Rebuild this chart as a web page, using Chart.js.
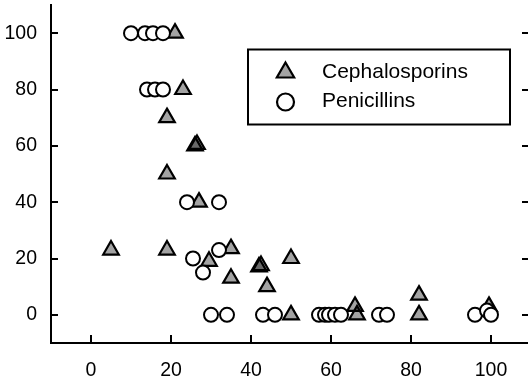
<!DOCTYPE html>
<html>
<head>
<meta charset="utf-8">
<script src="https://cdn.jsdelivr.net/npm/chart.js@4.4.0/dist/chart.umd.min.js"></script>
<style>
  html, body { margin: 0; padding: 0; background: #fff; }
</style>
</head>
<body>
<canvas id="chart" width="528" height="383"></canvas>
<script>
// Tick values shown on both axes
const xTicks = [0, 20, 40, 60, 80, 100];
const yTicks = [0, 20, 40, 60, 80, 100];

// Cephalosporins (x, y pairs)
const cephX = [21, 23, 19, 26, 26.5, 19, 27, 5, 19, 35, 29.5, 35, 42, 42.5, 44, 50, 50, 66, 66.5, 82, 82, 99.5];
const cephY = [100, 80, 70, 60, 60.5, 50, 40, 23, 23, 23.5, 19, 13, 17, 17.5, 10, 20, 0, 3, 0, 7, 0, 3];

// Penicillins (x, y pairs)
const penX = [10, 13.5, 15.5, 18, 14, 16, 18, 24, 32, 25.5, 32, 28, 30, 34, 43, 46, 57, 58.5, 59.5, 61, 62.5, 72, 74, 96, 99, 100];
const penY = [100, 100, 100, 100, 80, 80, 80, 40, 40, 20, 23, 15, 0, 0, 0, 0, 0, 0, 0, 0, 0, 0, 0, 0, 1.5, 0];

const FONT = "'Liberation Sans', Arial, Helvetica, sans-serif";
const TRI_FILL = 'rgba(0, 0, 0, 0.36)';

const toPoints = (xs, ys) => xs.map((x, i) => ({ x: x, y: ys[i] }));

// Short tick marks pointing into the plot (left, right and bottom edges)
const innerTicks = {
    id: 'innerTicks',
    afterDatasetsDraw(chart) {
        const { ctx, chartArea, scales } = chart;
        ctx.save();
        ctx.strokeStyle = '#000';
        ctx.lineWidth = 2;
        ctx.beginPath();
        yTicks.forEach(v => {
            const py = Math.round(scales.y.getPixelForValue(v));
            ctx.moveTo(chartArea.left, py);
            ctx.lineTo(chartArea.left + 7, py);
            ctx.moveTo(chartArea.right, py);
            ctx.lineTo(chartArea.right - 6, py);
        });
        xTicks.forEach(v => {
            const px = Math.round(scales.x.getPixelForValue(v));
            ctx.moveTo(px, chartArea.bottom);
            ctx.lineTo(px, chartArea.bottom - 8);
        });
        ctx.stroke();
        ctx.restore();
    }
};

// Boxed legend in the upper right of the plot
const boxLegend = {
    id: 'boxLegend',
    afterDraw(chart, args, opts) {
        const { ctx } = chart;
        const sets = chart.data.datasets;
        ctx.save();
        ctx.strokeStyle = '#000';
        ctx.lineWidth = 2;
        ctx.strokeRect(opts.left, opts.top, opts.width, opts.height);

        const sx = opts.left + 37.5;
        // triangle symbol
        const r = 10, ty = opts.top + 23;
        ctx.beginPath();
        ctx.moveTo(sx, ty - r);
        ctx.lineTo(sx + Math.sin(2 * Math.PI / 3) * r, ty + r / 2);
        ctx.lineTo(sx - Math.sin(2 * Math.PI / 3) * r, ty + r / 2);
        ctx.closePath();
        ctx.fillStyle = TRI_FILL;
        ctx.fill();
        ctx.lineWidth = 2.2;
        ctx.stroke();
        // circle symbol
        ctx.beginPath();
        ctx.arc(sx, opts.top + 52.5, 8.5, 0, 2 * Math.PI);
        ctx.fillStyle = '#fff';
        ctx.fill();
        ctx.stroke();

        ctx.fillStyle = '#000';
        ctx.font = '21px ' + FONT;
        ctx.textBaseline = 'middle';
        ctx.textAlign = 'left';
        ctx.fillText(sets[0].label, opts.left + 74, opts.top + 23);
        ctx.fillText(sets[1].label, opts.left + 74, opts.top + 52);
        ctx.restore();
    }
};

new Chart(document.getElementById('chart'), {
    type: 'scatter',
    data: {
        datasets: [
            {
                label: 'Cephalosporins',
                data: toPoints(cephX, cephY),
                pointStyle: 'triangle',
                pointRadius: 9,
                pointBorderWidth: 2.2,
                pointBackgroundColor: TRI_FILL,
                pointBorderColor: '#000',
                order: 1
            },
            {
                label: 'Penicillins',
                data: toPoints(penX, penY),
                pointStyle: 'circle',
                pointRadius: 7,
                pointBorderWidth: 2,
                pointBackgroundColor: '#fff',
                pointBorderColor: '#000',
                order: 0
            }
        ]
    },
    options: {
        responsive: false,
        animation: false,
        devicePixelRatio: 1,
        layout: { autoPadding: false, padding: { top: 5, right: 0, left: 0, bottom: 0 } },
        plugins: {
            legend: { display: false },
            tooltip: { enabled: false },
            boxLegend: { left: 248, top: 49.5, width: 262, height: 75 }
        },
        scales: {
            x: {
                type: 'linear',
                min: -10,
                max: 109.25,
                grid: { display: false, drawTicks: false },
                border: { display: true, color: '#000', width: 2 },
                ticks: { color: '#000', font: { family: FONT, size: 19.5 }, padding: 16 },
                afterBuildTicks: s => { s.ticks = xTicks.map(v => ({ value: v })); },
                afterFit: s => {
                    s.height = 40;
                    s.paddingLeft = 0;
                    s.paddingRight = 0;
                }
            },
            y: {
                type: 'linear',
                min: -10,
                max: 110,
                grid: { display: false, drawTicks: false },
                border: { display: true, color: '#000', width: 2 },
                ticks: { color: '#000', font: { family: FONT, size: 19.5 }, padding: 14 },
                afterBuildTicks: s => { s.ticks = yTicks.map(v => ({ value: v })); },
                afterFit: s => {
                    s.width = 51;
                    s.paddingTop = 0;
                    s.paddingBottom = 0;
                }
            }
        }
    },
    plugins: [innerTicks, boxLegend]
});
</script>
</body>
</html>
